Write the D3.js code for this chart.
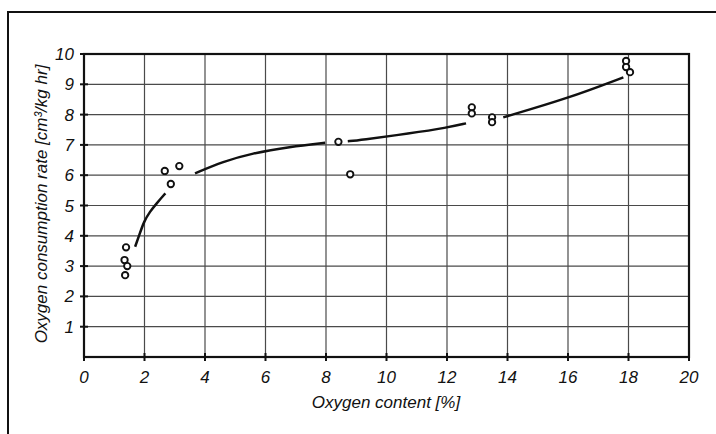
<!DOCTYPE html>
<html lang="en">
<head>
<meta charset="UTF-8">
<title>Oxygen consumption</title>
<script src="https://d3js.org/d3.v7.min.js"></script>
<style>
  body { margin: 0; background: #fff; }
  svg text { font-family: "Liberation Sans", Arial, sans-serif; font-style: italic; fill: #111; }
  .tick-label { font-size: 17px; }
  .axis-label { font-size: 17px; }
</style>
</head>
<body>
<svg width="716" height="434"></svg>
<script>
// measured points
const pointX = [1.39, 1.34, 1.43, 1.36, 2.67, 2.87, 3.15, 8.41, 8.80, 12.82, 12.82, 13.49, 13.49, 17.92, 17.92, 18.05];
const pointY = [3.62, 3.20, 3.00, 2.70, 6.14, 5.71, 6.30, 7.10, 6.03, 8.24, 8.04, 7.91, 7.75, 9.77, 9.57, 9.40];

// fitted curve, drawn in pieces between the point groups
const curveX1 = [1.69, 1.83, 1.98, 2.18, 2.40, 2.69];
const curveY1 = [3.64, 4.03, 4.47, 4.80, 5.07, 5.40];
const curveX2 = [3.67, 4.60, 5.54, 6.81, 7.97];
const curveY2 = [6.06, 6.45, 6.72, 6.94, 7.07];
const curveX3 = [8.72, 9.12, 10.78, 12.01, 12.63];
const curveY3 = [7.12, 7.16, 7.38, 7.57, 7.71];
const curveX4 = [13.86, 16.01, 17.83];
const curveY4 = [7.91, 8.54, 9.23];

const xTicks = [0, 2, 4, 6, 8, 10, 12, 14, 16, 18, 20];
const yTicks = [1, 2, 3, 4, 5, 6, 7, 8, 9, 10];

const plotLeft = 84, plotRight = 689, plotTop = 54, plotBottom = 357;

const svg = d3.select('svg');

// outer frame (runs off the page on right and bottom)
svg.append('rect')
  .attr('x', 8).attr('y', 12)
  .attr('width', 740).attr('height', 460)
  .attr('fill', 'none').attr('stroke', '#111').attr('stroke-width', 2);

const x = d3.scaleLinear().domain([0, 20]).range([plotLeft, plotRight]);
const y = d3.scaleLinear().domain([0, 10]).range([plotBottom, plotTop]);

// grid
svg.append('g').selectAll('line')
  .data(xTicks.slice(1, -1))
  .enter().append('line')
  .attr('x1', d => x(d)).attr('x2', d => x(d))
  .attr('y1', plotTop).attr('y2', plotBottom)
  .attr('stroke', '#4a4a4a').attr('stroke-width', 1.2);

svg.append('g').selectAll('line')
  .data(yTicks.slice(0, -1))
  .enter().append('line')
  .attr('x1', plotLeft).attr('x2', plotRight)
  .attr('y1', d => y(d)).attr('y2', d => y(d))
  .attr('stroke', '#4a4a4a').attr('stroke-width', 1.2);

// plot box
svg.append('rect')
  .attr('x', plotLeft).attr('y', plotTop)
  .attr('width', plotRight - plotLeft).attr('height', plotBottom - plotTop)
  .attr('fill', 'none').attr('stroke', '#111').attr('stroke-width', 2.2);

// tick marks crossing the axes
svg.append('g').selectAll('line')
  .data(xTicks)
  .enter().append('line')
  .attr('x1', d => x(d)).attr('x2', d => x(d))
  .attr('y1', plotBottom - 4).attr('y2', plotBottom + 4)
  .attr('stroke', '#111').attr('stroke-width', 2);

svg.append('g').selectAll('line')
  .data(yTicks)
  .enter().append('line')
  .attr('x1', plotLeft - 4).attr('x2', plotLeft + 4)
  .attr('y1', d => y(d)).attr('y2', d => y(d))
  .attr('stroke', '#111').attr('stroke-width', 2);

// tick labels
svg.append('g').selectAll('text')
  .data(xTicks)
  .enter().append('text')
  .attr('class', 'tick-label')
  .attr('x', d => x(d))
  .attr('y', plotBottom + 26)
  .attr('text-anchor', 'middle')
  .text(d => d);

svg.append('g').selectAll('text')
  .data(yTicks)
  .enter().append('text')
  .attr('class', 'tick-label')
  .attr('x', plotLeft - 10)
  .attr('y', d => y(d) + 6)
  .attr('text-anchor', 'end')
  .text(d => d);

// axis titles
svg.append('text')
  .attr('class', 'axis-label')
  .attr('x', 386).attr('y', 408)
  .attr('text-anchor', 'middle')
  .text('Oxygen content [%]');

svg.append('text')
  .attr('class', 'axis-label')
  .attr('transform', 'translate(47,204) rotate(-90)')
  .attr('text-anchor', 'middle')
  .text('Oxygen consumption rate [cm³/kg hr]');

// curve pieces
const line = d3.line()
  .x(d => x(d[0]))
  .y(d => y(d[1]))
  .curve(d3.curveBasis);

const pieces = [
  [curveX1, curveY1],
  [curveX2, curveY2],
  [curveX3, curveY3],
  [curveX4, curveY4]
];

svg.append('g').selectAll('path')
  .data(pieces.map(p => p[0].map((v, i) => [v, p[1][i]])))
  .enter().append('path')
  .attr('d', line)
  .attr('fill', 'none')
  .attr('stroke', '#111')
  .attr('stroke-width', 2.5);

// points
svg.append('g').selectAll('circle')
  .data(pointX.map((v, i) => [v, pointY[i]]))
  .enter().append('circle')
  .attr('cx', d => x(d[0]))
  .attr('cy', d => y(d[1]))
  .attr('r', 3.2)
  .attr('fill', '#fff')
  .attr('stroke', '#111')
  .attr('stroke-width', 1.9);
</script>
</body>
</html>
